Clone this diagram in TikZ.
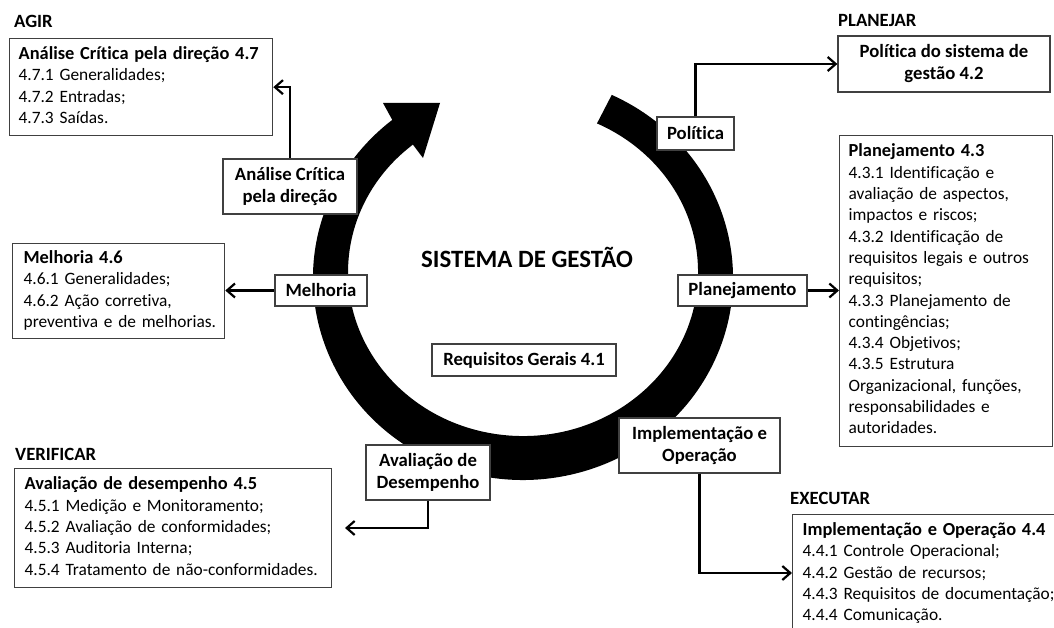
\documentclass[tikz,border=0pt]{standalone}
\usepackage{fontspec}
\setmainfont{Carlito}[Ligatures=NoCommon]
\usetikzlibrary{arrows.meta}
\newcommand{\bodyfont}{\fontsize{17.35}{21.3}\selectfont}
\newcommand{\ttl}[1]{{\fontsize{18.4}{21.3}\selectfont\bfseries #1}}
\newcommand{\rowsof}[1]{\begin{tabular}[t]{@{}l@{}}#1\end{tabular}}
\begin{document}
\begin{tikzpicture}[x=1pt,y=-1pt,
  bigbox/.style={draw=black!75, line width=1.3pt, fill=white, anchor=north west, align=left, inner ysep=0pt, font=\bodyfont},
  smallbox/.style={draw=black!75, line width=1.3pt, fill=white, align=center, inner sep=0pt, font=\fontsize{18.7}{22}\selectfont\bfseries},
  phase/.style={anchor=base west, inner sep=0pt, font=\fontsize{18.7}{22}\selectfont\bfseries},
  conn/.style={line width=2.2pt, draw=black, -{Straight Barb[length=8pt,width=14pt]}}
]
\path[use as bounding box] (0,0) rectangle (1054,628);
\clip (0,0) rectangle (1054,628);

% circular arrow
\fill[black] (611.75,94.9) arc[start angle=-65, end angle=231.5, x radius=210, y radius=202]
  -- (383,103) -- (440,103) -- (423,158) -- (412.9,144.6)
  arc[start angle=231, end angle=-65, x radius=175, y radius=164] -- cycle;

% phase labels
\node[phase] (agir) at (14,28) {AGIR};
\node[phase] (planejar) at (838,27) {PLANEJAR};
\node[phase] (verificar) at (15,460) {VERIFICAR};
\node[phase] (executar) at (790,504) {EXECUTAR};
\node[anchor=base, inner sep=0pt, font=\fontsize{24.9}{30}\selectfont\bfseries] (sistema) at (527,267) {SISTEMA DE GESTÃO};

% big boxes
\node[bigbox, inner xsep=9pt, text width=245pt, minimum height=97pt] (agirbox) at (9,38)
  {\rowsof{\ttl{Análise Crítica pela direção 4.7}\\ 4.7.1 Generalidades;\\ 4.7.2 Entradas;\\ 4.7.3 Saídas.}};
\node[bigbox, inner xsep=11pt, text width=190pt, minimum height=95pt] (melhoriabox) at (12,243)
  {\rowsof{\ttl{Melhoria 4.6}\\ 4.6.1 Generalidades;\\ 4.6.2 Ação corretiva,\\ preventiva e de melhorias.}};
\node[bigbox, inner xsep=9pt, text width=195pt, minimum height=311pt] (planbox) at (839,135)
  {\rowsof{\ttl{Planejamento 4.3}\\ 4.3.1 Identificação e\\ avaliação de aspectos,\\ impactos e riscos;\\ 4.3.2 Identificação de\\ requisitos legais e outros\\ requisitos;\\ 4.3.3 Planejamento de\\ contingências;\\ 4.3.4 Objetivos;\\ 4.3.5 Estrutura\\ Organizacional, funções,\\ responsabilidades e\\ autoridades.}};
\node[bigbox, inner xsep=10pt, text width=297pt, minimum height=119pt] (verifbox) at (14,468)
  {\rowsof{\ttl{Avaliação de desempenho 4.5}\\ 4.5.1 Medição e Monitoramento;\\ 4.5.2 Avaliação de conformidades;\\ 4.5.3 Auditoria Interna;\\ 4.5.4 Tratamento de não-conformidades.}};
\node[bigbox, inner xsep=10pt, inner ysep=6pt, text width=300pt] (execbox) at (792,514)
  {\rowsof{\ttl{Implementação e Operação 4.4}\\ 4.4.1 Controle Operacional;\\ 4.4.2 Gestão de recursos;\\ 4.4.3 Requisitos de documentação;\\ 4.4.4 Comunicação.\\ \\}};

% small boxes
\node[smallbox, minimum width=212pt, minimum height=56pt] (planejarbox) at (944,64) {Política do sistema de\\gestão 4.2};
\node[smallbox, minimum width=134pt, minimum height=55pt] (analise) at (290,186.5) {Análise Crítica\\pela direção};
\node[smallbox, minimum width=92pt, minimum height=31pt] (melhoria) at (321,290.5) {Melhoria};
\node[smallbox, minimum width=77pt, minimum height=33pt] (politica) at (695.5,133.5) {Política};
\node[smallbox, minimum width=129pt, minimum height=31pt] (planej) at (742.5,290.5) {Planejamento};
\node[smallbox, minimum width=161pt, minimum height=55pt] (implem) at (699.5,445.5) {Implementação e\\Operação};
\node[smallbox, minimum width=124pt, minimum height=55pt] (avalia) at (428,472.5) {Avaliação de\\Desempenho};
\node[smallbox, minimum width=184pt, minimum height=32pt] (requisitos) at (524,360) {Requisitos Gerais 4.1};

% connectors
\coordinate (verifEnd) at (345,528);
\coordinate (execIn) at (792,573);
\draw[conn] (analise.north) |- (agirbox.east);
\draw[conn] (politica.north) |- (planejarbox.west);
\draw[conn] (planej.east) -- (planbox.west |- planej.east);
\draw[conn] (melhoria.west) -- (melhoriabox.east |- melhoria.west);
\draw[conn] (avalia.south) |- (verifEnd);
\draw[conn] (implem.south) |- (execIn);
\end{tikzpicture}
\end{document}
